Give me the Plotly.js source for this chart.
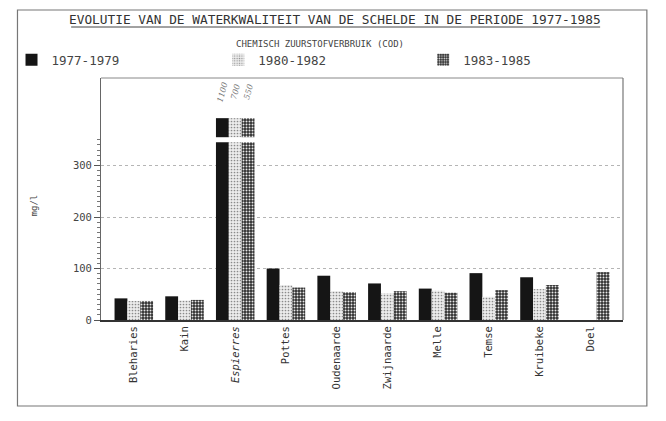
<!DOCTYPE html>
<html>
<head>
<meta charset="utf-8">
<script src="https://cdn.plot.ly/plotly-3.0.1.min.js"></script>
<style>html,body{margin:0;padding:0;background:#fff;}#chart{width:666px;height:421px;}</style>
</head>
<body>
<div id="chart"></div>
<script>
// ---- data ----
const categories = ["Bleharies","Kain","Espierres","Pottes","Oudenaarde","Zwijnaarde","Melle","Temse","Kruibeke","Doel"];
const tickLabels = ["Bleharies","Kain","<i>Espierres</i>","Pottes","Oudenaarde","Zwijnaarde","Melle","Temse","Kruibeke","Doel"];
const seriesNames = ["1977-1979","1980-1982","1983-1985"];
const cod7779 = [42, 46, 1100, 100, 86, 71, 61, 91, 83, null];
const cod8082 = [37, 38, 700, 68, 56, 52, 57, 45, 60, null];
const cod8385 = [37, 39, 550, 63, 54, 56, 53, 58, 68, 93];
const espierresNotes = ["1100", "700", "550"];
const breakLow = 345;          // bars above this value are cut
const breakBlock = [355, 392]; // stub drawn above the cut
const yTicks = [0, 100, 200, 300];

const font = "DejaVu Sans Mono, monospace";
const styles = [
  {color:"#151515", pattern:{shape:""}},
  {color:"#e6e6e6", pattern:{shape:".", fgcolor:"#8a8a8a", bgcolor:"#ececec", size:3, solidity:0.25}},
  {color:"#3a3a3a", pattern:{shape:".", fgcolor:"#e8e8e8", bgcolor:"#2e2e2e", size:3, solidity:0.35}}
];
const series = [cod7779, cod8082, cod8385];
const legendIds = ["legend","legend2","legend3"];

const traces = [];
series.forEach((vals, i) => {
  traces.push({
    type:"bar", name:seriesNames[i], x:categories, legend:legendIds[i],
    y: vals.map(v => v == null ? null : Math.min(v, breakLow)),
    offsetgroup:"g"+i, marker:{color:styles[i].color, pattern:styles[i].pattern, line:{width:0}},
    hoverinfo:"skip"
  });
});
series.forEach((vals, i) => {
  const over = vals.map(v => (v != null && v > breakLow) ? breakBlock[1]-breakBlock[0] : null);
  traces.push({
    type:"bar", name:seriesNames[i], x:categories, y:over,
    base: vals.map(v => (v != null && v > breakLow) ? breakBlock[0] : null),
    offsetgroup:"g"+i, showlegend:false,
    marker:{color:styles[i].color, pattern:styles[i].pattern, line:{width:0}},
    hoverinfo:"skip"
  });
});

const L = 98, R = 623, T = 78, B = 320, W = 666, H = 421;
const px = x => (x - L) / (R - L);
const py = y => (B - y) / (B - T);

const annotations = [
  {xref:"paper", yref:"paper", x:px(333), y:py(19), text:"EVOLUTIE VAN DE WATERKWALITEIT VAN DE SCHELDE IN DE PERIODE 1977-1985",
   showarrow:false, font:{family:font, size:12.8, color:"#333"}, xanchor:"center", yanchor:"middle"},
  {xref:"paper", yref:"paper", x:px(318), y:py(44), text:"CHEMISCH ZUURSTOFVERBRUIK (COD)",
   showarrow:false, font:{family:font, size:9, color:"#444"}, xanchor:"center", yanchor:"middle"},
  {xref:"paper", yref:"paper", x:px(31), y:py(205), text:"mg/l", textangle:-90,
   showarrow:false, font:{family:font, size:9, color:"#444"}, xanchor:"center", yanchor:"middle"}
];
espierresNotes.forEach((t, i) => {
  annotations.push({x:categories[2], xref:"x", y:breakBlock[1], yref:"y", yshift:26, xshift:(i-1)*13,
    text:"<i>"+t+"</i>", textangle:-75, showarrow:false,
    font:{family:"DejaVu Serif, serif", size:8, color:"#777"}});
});

const legendBase = {orientation:"h", y:py(60), xanchor:"left", yanchor:"middle", itemwidth:30,
  font:{family:font, size:12.5, color:"#444"}, bgcolor:"rgba(0,0,0,0)"};

const layout = {
  width:W, height:H,
  margin:{l:L, r:W-R, t:T, b:H-B, pad:0},
  paper_bgcolor:"#fff", plot_bgcolor:"#fff",
  barmode:"group", bargap:0.24, bargroupgap:0,
  showlegend:true,
  legend:Object.assign({}, legendBase, {x:px(8)}),
  legend2:Object.assign({}, legendBase, {x:px(216)}),
  legend3:Object.assign({}, legendBase, {x:px(422)}),
  xaxis:{type:"category", range:[-0.647, 9.647], tickvals:categories, ticktext:tickLabels,
         tickangle:-90, tickfont:{family:font, size:10.5, color:"#333"},
         showline:true, linecolor:"#333", linewidth:2, mirror:false, ticks:"", showgrid:false,
         fixedrange:true},
  yaxis:{range:[0, 470], tickvals:yTicks, ticks:"outside", ticklen:6, tickcolor:"#555",
         tickfont:{family:font, size:10.5, color:"#444"},
         showline:true, linecolor:"#666", linewidth:1, mirror:false,
         showgrid:true, gridcolor:"#b5b5b5", griddash:"dot", gridwidth:1, zeroline:false,
         minor:{tickmode:"array", tickvals:[10,20,30,40,50,60,70,80,90,110,120,130,140,150,160,170,180,190,210,220,230,240,250,260,270,280,290,310,320,330,340,350],
                ticks:"outside", ticklen:3, tickcolor:"#777", showgrid:false},
         fixedrange:true},
  shapes:[
    {type:"rect", xref:"paper", yref:"paper", x0:px(14), x1:px(647), y0:py(406), y1:py(10), line:{color:"#777", width:1.2}, layer:"below"},
    {type:"line", xref:"paper", yref:"paper", x0:px(68), x1:px(600), y0:py(27), y1:py(27), line:{color:"#444", width:1}},
    {type:"line", xref:"paper", yref:"paper", x0:0, x1:1, y0:1, y1:1, line:{color:"#888", width:1}},
    {type:"line", xref:"paper", yref:"paper", x0:1, x1:1, y0:0, y1:1, line:{color:"#777", width:1.2}}
  ],
  annotations:annotations
};

Plotly.newPlot("chart", traces, layout, {staticPlot:true, displayModeBar:false});
</script>
</body>
</html>
